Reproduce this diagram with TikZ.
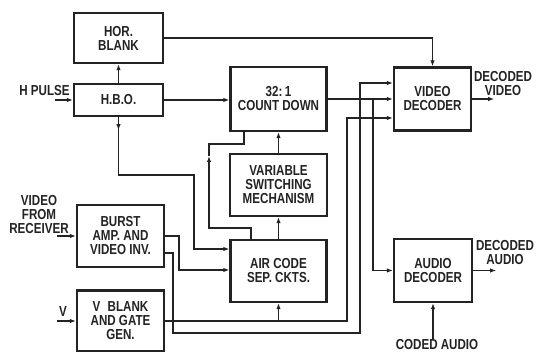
\documentclass[tikz,border=0pt]{standalone}
\usepackage{fontspec}
\setmainfont{Liberation Sans}[FakeStretch=0.8]
\usetikzlibrary{arrows.meta}
\definecolor{ink}{RGB}{35,35,35}
\tikzset{
  blk/.style={draw=ink, line width=2.3pt, rectangle, inner sep=0pt, align=center, text=ink},
  lbl/.style={align=center, inner sep=0pt, text=ink},
  wire/.style={draw=ink, line width=1.7pt},
  arr/.style={wire, -{Latex[length=6pt,width=4.5pt]}},
}
\begin{document}
\begin{tikzpicture}[x=1pt,y=-1pt, font=\fontsize{14.5}{14}\selectfont\bfseries]
\useasboundingbox (0,0) rectangle (537,352);
% boxes
\node[blk, minimum width=89pt, minimum height=50pt] (hb) at (118.5,38) {HOR.\\BLANK};
\node[blk, minimum width=89pt, minimum height=32pt] (hbo) at (118.5,100) {H.B.O.};
\node[blk, minimum width=96pt, minimum height=64pt] (cd) at (278.5,99) {32:\,1\\COUNT DOWN};
\node[blk, minimum width=97pt, minimum height=62pt] (vs) at (278.5,185) {VARIABLE\\SWITCHING\\MECHANISM};
\node[blk, minimum width=96pt, minimum height=62pt] (ac) at (278.5,271) {AIR CODE\\SEP. CKTS.};
\node[blk, minimum width=87pt, minimum height=62pt] (ba) at (120.5,236) {BURST\\AMP. AND\\VIDEO INV.};
\node[blk, minimum width=87pt, minimum height=61pt] (vb) at (120.5,321) {V\enspace BLANK\\AND GATE\\GEN.};
\node[blk, minimum width=77pt, minimum height=63pt] (vd) at (432.5,99) {VIDEO\\DECODER};
\node[blk, minimum width=78pt, minimum height=63pt] (ad) at (433,270.5) {AUDIO\\DECODER};
% outside labels
\node[lbl] (hp) at (44.5,91) {H PULSE};
\node[lbl] (vfr) at (39,215) {VIDEO\\FROM\\RECEIVER};
\node[lbl] (vin) at (63,312) {V};
\node[lbl] (dv) at (503,84) {DECODED\\VIDEO};
\node[lbl] (da) at (505,253) {DECODED\\AUDIO};
\node[lbl] (ca) at (437,345) {CODED AUDIO};
% inputs
\draw[arr] ([xshift=-18pt]hbo.west) -- (hbo.west);
\draw[arr] ([xshift=-19pt]ba.west) -- (ba.west);
\draw[arr] ([xshift=-19pt]vb.west) -- (vb.west);
\draw[arr] (ca.north -| ad.south) -- (ad.south);
% outputs
\draw[arr] (vd.east) -- ++(22,0);
\draw[arr] (ad.east) -- ++(23,0);
% top connections
\draw[arr] (hb.east) -| (vd.north);
\draw[arr] (hbo.north) -- (hb.south);
\draw[arr] (hbo.east) -- (hbo.east -| cd.west);
% H.B.O. to air code
\draw[arr] (hbo.south) |- (194,175) |- (ac.west |- 0,249);
\draw[arr] (hbo.south) -- ++(0,13);
% burst outputs
\draw[arr] (ba.east) -| (179,270) -- (ac.west |- 0,270);
\draw[arr] ([yshift=-17pt]ba.east) -| (173,333) -| (360,83) -- (vd.west |- 0,83);
% V blank outputs
\draw[arr] (vb.east) -| (347,118) -- (vd.west |- 0,118);
\draw[arr] (ac.south |- vb.east) -- (ac.south);
% count down to decoders
\draw[arr] (cd.east) -- (vd.west |- cd.east);
\coordinate (tap) at (373,99);
\draw[arr] (tap) |- (ad.west);
% vertical chain
\draw[arr] (vs.north) -- (vs.north |- cd.south);
\draw[arr] (ac.north) -- (vs.south);
% air code feedback to count down
\coordinate (fb) at (209,156);
\draw[arr] (ac.north -| 251,0) |- (209,228) -- (fb);
\draw[wire] (fb) |- (244,144) -- (cd.south -| 244,0);
\end{tikzpicture}
\end{document}
